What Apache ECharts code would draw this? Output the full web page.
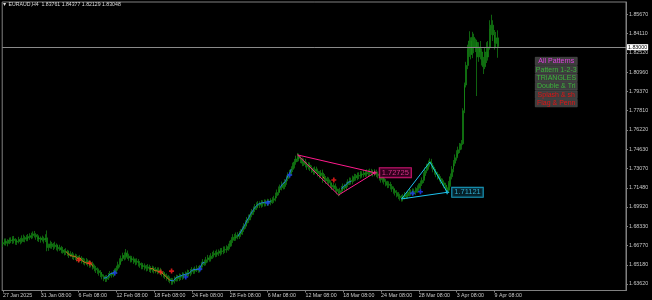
<!DOCTYPE html>
<html>
<head>
<meta charset="utf-8">
<script src="https://cdn.jsdelivr.net/npm/echarts@6/dist/echarts.min.js"></script>
<style>
html,body{margin:0;padding:0;background:#000;}
#c{width:652px;height:300px;}
</style>
</head>
<body>
<div id="c"></div>
<script>
// ---- data ----
const titleText = '\u25BC EURAUD,H4  1.83761 1.84377 1.82129 1.83048';
const xTickLabels = ['27 Jan 2025','31 Jan 08:00','6 Feb 08:00','12 Feb 08:00','18 Feb 08:00','24 Feb 08:00','28 Feb 08:00','6 Mar 08:00','12 Mar 08:00','18 Mar 08:00','24 Mar 08:00','28 Mar 08:00','3 Apr 08:00','9 Apr 08:00'];
const barsPerXTick = 24;
const slotCount = 396; // bar slots across the chart incl. right shift area
const yTicks = [1.63620,1.65180,1.66770,1.68330,1.69920,1.71480,1.73070,1.74630,1.76220,1.77810,1.79370,1.80960,1.82520,1.84110,1.85670];
const yMin = 1.63088, yMax = 1.86693;

// [open, close, low, high] per H4 bar
const candles = [
[1.6690,1.6700,1.6665,1.6726],[1.6700,1.6712,1.6678,1.6734],[1.6712,1.6695,1.6676,1.6735],[1.6695,1.6708,1.6670,1.6728],[1.6708,1.6722,1.6688,1.6742],
[1.6722,1.6715,1.6696,1.6744],[1.6715,1.6730,1.6690,1.6753],[1.6730,1.6718,1.6694,1.6755],[1.6718,1.6705,1.6683,1.6737],[1.6705,1.6712,1.6681,1.6729],
[1.6712,1.6725,1.6694,1.6748],[1.6725,1.6710,1.6686,1.6740],[1.6710,1.6735,1.6695,1.6760],[1.6735,1.6742,1.6706,1.6766],[1.6742,1.6728,1.6703,1.6756],
[1.6728,1.6738,1.6712,1.6762],[1.6738,1.6750,1.6712,1.6771],[1.6750,1.6745,1.6723,1.6777],[1.6745,1.6758,1.6729,1.6781],[1.6758,1.6772,1.6735,1.6792],
[1.6772,1.6765,1.6742,1.6796],[1.6765,1.6748,1.6724,1.6778],[1.6748,1.6730,1.6712,1.6770],[1.6730,1.6738,1.6706,1.6760],[1.6738,1.6725,1.6700,1.6751],
[1.6725,1.6735,1.6709,1.6758],[1.6735,1.6722,1.6694,1.6749],[1.6722,1.6740,1.6705,1.6769],[1.6740,1.6660,1.6630,1.6800],[1.6660,1.6672,1.6633,1.6692],
[1.6672,1.6690,1.6652,1.6716],[1.6690,1.6675,1.6650,1.6706],[1.6675,1.6668,1.6640,1.6698],[1.6668,1.6680,1.6651,1.6708],[1.6680,1.6662,1.6637,1.6694],
[1.6662,1.6650,1.6628,1.6684],[1.6650,1.6658,1.6633,1.6683],[1.6658,1.6640,1.6614,1.6674],[1.6640,1.6632,1.6610,1.6665],[1.6632,1.6620,1.6596,1.6648],
[1.6620,1.6628,1.6600,1.6655],[1.6628,1.6612,1.6590,1.6642],[1.6612,1.6600,1.6575,1.6636],[1.6600,1.6608,1.6582,1.6630],[1.6608,1.6590,1.6565,1.6624],
[1.6590,1.6580,1.6558,1.6612],[1.6580,1.6588,1.6558,1.6610],[1.6588,1.6570,1.6545,1.6605],[1.6570,1.6562,1.6540,1.6593],[1.6562,1.6575,1.6544,1.6600],
[1.6575,1.6555,1.6530,1.6590],[1.6555,1.6545,1.6522,1.6576],[1.6545,1.6538,1.6514,1.6570],[1.6538,1.6550,1.6518,1.6574],[1.6550,1.6530,1.6505,1.6564],
[1.6530,1.6520,1.6495,1.6552],[1.6520,1.6528,1.6498,1.6550],[1.6528,1.6505,1.6480,1.6545],[1.6505,1.6490,1.6466,1.6520],[1.6490,1.6478,1.6452,1.6510],
[1.6478,1.6470,1.6445,1.6497],[1.6470,1.6455,1.6430,1.6488],[1.6455,1.6440,1.6418,1.6476],[1.6440,1.6425,1.6400,1.6460],[1.6425,1.6410,1.6385,1.6440],
[1.6410,1.6402,1.6378,1.6433],[1.6402,1.6415,1.6380,1.6436],[1.6415,1.6430,1.6395,1.6452],[1.6430,1.6445,1.6410,1.6468],[1.6445,1.6438,1.6414,1.6462],
[1.6438,1.6452,1.6418,1.6475],[1.6452,1.6465,1.6430,1.6488],[1.6465,1.6490,1.6445,1.6512],[1.6490,1.6520,1.6472,1.6545],[1.6520,1.6548,1.6498,1.6572],
[1.6548,1.6570,1.6528,1.6595],[1.6570,1.6595,1.6550,1.6618],[1.6595,1.6580,1.6555,1.6620],[1.6580,1.6615,1.6562,1.6648],[1.6615,1.6590,1.6566,1.6636],
[1.6590,1.6575,1.6552,1.6610],[1.6575,1.6560,1.6538,1.6594],[1.6560,1.6568,1.6540,1.6592],[1.6568,1.6550,1.6526,1.6586],[1.6550,1.6540,1.6515,1.6570],
[1.6540,1.6548,1.6520,1.6572],[1.6548,1.6530,1.6505,1.6566],[1.6530,1.6518,1.6494,1.6550],[1.6518,1.6505,1.6482,1.6538],[1.6505,1.6512,1.6483,1.6534],
[1.6512,1.6498,1.6474,1.6530],[1.6498,1.6490,1.6465,1.6518],[1.6490,1.6502,1.6470,1.6525],[1.6502,1.6485,1.6460,1.6520],[1.6485,1.6478,1.6452,1.6508],
[1.6478,1.6490,1.6457,1.6512],[1.6490,1.6472,1.6448,1.6506],[1.6472,1.6480,1.6450,1.6502],[1.6480,1.6468,1.6442,1.6498],[1.6468,1.6475,1.6447,1.6498],
[1.6475,1.6460,1.6436,1.6494],[1.6460,1.6448,1.6424,1.6480],[1.6448,1.6440,1.6414,1.6468],[1.6440,1.6428,1.6404,1.6460],[1.6428,1.6415,1.6390,1.6448],
[1.6415,1.6405,1.6380,1.6434],[1.6405,1.6392,1.6368,1.6424],[1.6392,1.6380,1.6355,1.6412],[1.6380,1.6388,1.6357,1.6410],[1.6388,1.6402,1.6366,1.6425],
[1.6402,1.6415,1.6382,1.6438],[1.6415,1.6408,1.6384,1.6436],[1.6408,1.6425,1.6386,1.6448],[1.6425,1.6418,1.6394,1.6444],[1.6418,1.6435,1.6396,1.6458],
[1.6435,1.6428,1.6404,1.6455],[1.6428,1.6442,1.6406,1.6465],[1.6442,1.6455,1.6420,1.6480],[1.6455,1.6448,1.6424,1.6476],[1.6448,1.6462,1.6426,1.6485],
[1.6462,1.6475,1.6440,1.6500],[1.6475,1.6468,1.6444,1.6495],[1.6468,1.6482,1.6446,1.6505],[1.6482,1.6490,1.6460,1.6515],[1.6490,1.6478,1.6454,1.6510],
[1.6478,1.6495,1.6456,1.6518],[1.6495,1.6520,1.6474,1.6544],[1.6520,1.6540,1.6498,1.6566],[1.6540,1.6535,1.6510,1.6562],[1.6535,1.6560,1.6514,1.6584],
[1.6560,1.6575,1.6538,1.6600],[1.6575,1.6568,1.6544,1.6597],[1.6568,1.6590,1.6546,1.6614],[1.6590,1.6600,1.6568,1.6625],[1.6600,1.6612,1.6578,1.6636],
[1.6612,1.6605,1.6581,1.6633],[1.6605,1.6620,1.6584,1.6644],[1.6620,1.6615,1.6591,1.6645],[1.6615,1.6632,1.6594,1.6656],[1.6632,1.6628,1.6604,1.6657],
[1.6628,1.6645,1.6606,1.6669],[1.6645,1.6640,1.6616,1.6670],[1.6640,1.6655,1.6618,1.6679],[1.6655,1.6668,1.6634,1.6692],[1.6668,1.6690,1.6646,1.6715],
[1.6690,1.6720,1.6670,1.6745],[1.6720,1.6745,1.6698,1.6770],[1.6745,1.6738,1.6714,1.6772],[1.6738,1.6760,1.6716,1.6784],[1.6760,1.6752,1.6728,1.6786],
[1.6752,1.6770,1.6731,1.6794],[1.6770,1.6785,1.6748,1.6810],[1.6785,1.6810,1.6764,1.6834],[1.6810,1.6835,1.6788,1.6860],[1.6835,1.6860,1.6814,1.6884],
[1.6860,1.6885,1.6838,1.6910],[1.6885,1.6905,1.6862,1.6930],[1.6905,1.6930,1.6884,1.6955],[1.6930,1.6950,1.6908,1.6976],[1.6950,1.6972,1.6928,1.6996],
[1.6972,1.6990,1.6950,1.7016],[1.6990,1.7005,1.6968,1.7030],[1.7005,1.7015,1.6982,1.7040],[1.7015,1.7008,1.6984,1.7038],[1.7008,1.7025,1.6986,1.7049],
[1.7025,1.7018,1.6994,1.7046],[1.7018,1.7030,1.6996,1.7054],[1.7030,1.7022,1.6998,1.7052],[1.7022,1.7035,1.7000,1.7059],[1.7035,1.7028,1.7004,1.7056],
[1.7028,1.7040,1.7006,1.7064],[1.7040,1.7048,1.7018,1.7072],[1.7048,1.7060,1.7026,1.7084],[1.7060,1.7085,1.7038,1.7110],[1.7085,1.7110,1.7064,1.7135],
[1.7110,1.7135,1.7088,1.7160],[1.7135,1.7150,1.7112,1.7176],[1.7150,1.7175,1.7128,1.7200],[1.7175,1.7160,1.7136,1.7196],[1.7160,1.7195,1.7138,1.7220],
[1.7195,1.7225,1.7174,1.7250],[1.7225,1.7250,1.7204,1.7275],[1.7250,1.7270,1.7226,1.7296],[1.7270,1.7300,1.7248,1.7325],[1.7300,1.7330,1.7278,1.7355],
[1.7330,1.7360,1.7308,1.7385],[1.7360,1.7385,1.7338,1.7412],[1.7385,1.7405,1.7361,1.7434],[1.7405,1.7390,1.7366,1.7429],[1.7390,1.7375,1.7351,1.7412],
[1.7375,1.7350,1.7326,1.7396],[1.7350,1.7365,1.7328,1.7389],[1.7365,1.7340,1.7316,1.7386],[1.7340,1.7320,1.7296,1.7362],[1.7320,1.7335,1.7298,1.7359],
[1.7335,1.7310,1.7286,1.7356],[1.7310,1.7295,1.7271,1.7332],[1.7295,1.7280,1.7256,1.7316],[1.7280,1.7300,1.7258,1.7324],[1.7300,1.7285,1.7261,1.7322],
[1.7285,1.7265,1.7241,1.7306],[1.7265,1.7250,1.7226,1.7286],[1.7250,1.7270,1.7228,1.7294],[1.7270,1.7240,1.7190,1.7298],[1.7240,1.7225,1.7201,1.7262],
[1.7225,1.7205,1.7181,1.7246],[1.7205,1.7215,1.7182,1.7239],[1.7215,1.7190,1.7166,1.7234],[1.7190,1.7170,1.7146,1.7210],[1.7170,1.7155,1.7131,1.7190],
[1.7155,1.7165,1.7132,1.7189],[1.7165,1.7140,1.7116,1.7184],[1.7140,1.7120,1.7096,1.7160],[1.7120,1.7105,1.7080,1.7140],[1.7105,1.7125,1.7084,1.7149],
[1.7125,1.7140,1.7104,1.7164],[1.7140,1.7160,1.7118,1.7184],[1.7160,1.7150,1.7126,1.7182],[1.7150,1.7175,1.7128,1.7199],[1.7175,1.7195,1.7154,1.7219],
[1.7195,1.7210,1.7172,1.7234],[1.7210,1.7200,1.7176,1.7232],[1.7200,1.7225,1.7178,1.7249],[1.7225,1.7240,1.7204,1.7264],[1.7240,1.7232,1.7208,1.7262],
[1.7232,1.7250,1.7211,1.7274],[1.7250,1.7245,1.7221,1.7276],[1.7245,1.7262,1.7224,1.7286],[1.7262,1.7255,1.7231,1.7284],[1.7255,1.7270,1.7234,1.7294],
[1.7270,1.7262,1.7238,1.7292],[1.7262,1.7275,1.7241,1.7300],[1.7275,1.7268,1.7244,1.7298],[1.7268,1.7280,1.7246,1.7306],[1.7280,1.7272,1.7248,1.7304],
[1.7272,1.7265,1.7241,1.7296],[1.7265,1.7278,1.7244,1.7302],[1.7278,1.7260,1.7236,1.7298],[1.7260,1.7250,1.7226,1.7282],[1.7250,1.7232,1.7208,1.7270],
[1.7232,1.7215,1.7191,1.7252],[1.7215,1.7225,1.7192,1.7249],[1.7225,1.7200,1.7176,1.7244],[1.7200,1.7185,1.7161,1.7220],[1.7185,1.7170,1.7146,1.7206],
[1.7170,1.7178,1.7148,1.7202],[1.7178,1.7160,1.7136,1.7198],[1.7160,1.7140,1.7116,1.7180],[1.7140,1.7125,1.7101,1.7160],[1.7125,1.7110,1.7086,1.7144],
[1.7110,1.7095,1.7071,1.7130],[1.7095,1.7080,1.7056,1.7114],[1.7080,1.7068,1.7044,1.7100],[1.7068,1.7060,1.7036,1.7090],[1.7060,1.7075,1.7038,1.7099],
[1.7075,1.7090,1.7054,1.7114],[1.7090,1.7082,1.7058,1.7112],[1.7082,1.7100,1.7061,1.7124],[1.7100,1.7115,1.7078,1.7139],[1.7115,1.7108,1.7084,1.7136],
[1.7108,1.7120,1.7086,1.7144],[1.7120,1.7112,1.7088,1.7142],[1.7112,1.7130,1.7091,1.7154],[1.7130,1.7145,1.7108,1.7169],[1.7145,1.7160,1.7124,1.7184],
[1.7160,1.7185,1.7138,1.7209],[1.7185,1.7210,1.7164,1.7234],[1.7210,1.7250,1.7188,1.7276],[1.7250,1.7290,1.7228,1.7316],[1.7290,1.7320,1.7268,1.7346],
[1.7320,1.7345,1.7298,1.7372],[1.7345,1.7365,1.7322,1.7390],[1.7365,1.7330,1.7306,1.7386],[1.7330,1.7300,1.7276,1.7352],[1.7300,1.7280,1.7256,1.7320],
[1.7280,1.7260,1.7236,1.7300],[1.7260,1.7240,1.7216,1.7280],[1.7240,1.7225,1.7201,1.7260],[1.7225,1.7205,1.7181,1.7244],[1.7205,1.7190,1.7166,1.7224],
[1.7190,1.7170,1.7146,1.7210],[1.7170,1.7150,1.7126,1.7190],[1.7150,1.7130,1.7101,1.7170],[1.7130,1.7180,1.7108,1.7204],[1.7180,1.7240,1.7158,1.7266],
[1.7240,1.7300,1.7218,1.7326],[1.7300,1.7350,1.7276,1.7376],[1.7350,1.7395,1.7326,1.7422],[1.7395,1.7430,1.7371,1.7456],[1.7430,1.7460,1.7406,1.7486],
[1.7460,1.7490,1.7434,1.7516],[1.7490,1.7510,1.7462,1.7540],[1.7510,1.7780,1.7500,1.7800],[1.7780,1.7990,1.7760,1.8010],[1.7990,1.8150,1.7970,1.8180],
[1.8150,1.8280,1.8120,1.8320],[1.8280,1.8350,1.8220,1.8430],[1.8350,1.8240,1.8200,1.8380],[1.8240,1.8380,1.8210,1.8425],[1.8380,1.8300,1.8250,1.8410],
[1.8300,1.8340,1.8260,1.8370],[1.8340,1.8220,1.7900,1.8360],[1.8220,1.8300,1.8180,1.8340],[1.8300,1.8260,1.8200,1.8350],[1.8260,1.8190,1.8150,1.8290],
[1.8190,1.8140,1.8080,1.8220],[1.8140,1.8260,1.8120,1.8300],[1.8260,1.8220,1.8170,1.8340],[1.8220,1.8300,1.8190,1.8350],[1.8300,1.8450,1.8280,1.8520],
[1.8450,1.8480,1.8400,1.8565],[1.8480,1.8400,1.8350,1.8520],[1.8400,1.8330,1.8280,1.8440],[1.8330,1.8376,1.8300,1.8424],[1.83761,1.83048,1.82129,1.84377]
];

// indicator overlay: bar index ranges that are highlighted
const orangeSegments = [[40,57],[93,106],[203,204]];
const blueSegments = [[64,71],[106,128],[149,170],[176,183],[215,221]];
// signal markers [bar index, price]
const sellMarks = [[48,1.6558],[55,1.6534],[100,1.6460],[107,1.6468],[210,1.7213]];
const buyMarks = [[71,1.6452],[116,1.6419],[125,1.6485],[168,1.7025],[182,1.7254],[260,1.7104],[265,1.7117]];
// chart patterns [bar index, price]
const pinkPattern = [[187,1.7418],[213,1.7090],[236,1.72725]];
const cyanPattern = [[253,1.7058],[271,1.7360],[282,1.71121]];
// pattern panel buttons
const buttonLabels = ['All Patterns','Pattern 1-2-3','TRIANGLES','Double & Triple','Splash & shelf','Flag & Pennant'];
const buttonColors = ['#e040e0','#3cb43c','#3cb43c','#3cb43c','#e01414','#e01414'];

// ---- chart ----
const FONT = 'Liberation Sans, Arial, sans-serif';
const slots = Array.from({length: slotCount}, (_, i) => String(i));
const lastClose = candles[candles.length - 1][1];

function segSeries(ranges, color) {
  return ranges.map(r => ({
    type: 'line', silent: true, symbol: 'none', z: 4,
    lineStyle: {color: color, width: 1},
    data: candles.slice(r[0], r[1] + 1).map((d, k) => [r[0] + k, d[1]])
  }));
}
const plusPath = 'path://M2,0H4V2H6V4H4V6H2V4H0V2H2Z';

function patternSeries(pts, color, boxBg, txtColor) {
  return [{
    type: 'line', silent: true, symbol: 'none', z: 6,
    lineStyle: {color: color, width: 1},
    data: [pts[0], pts[1], pts[2], pts[0]]
  }, {
    type: 'scatter', silent: true, z: 7,
    symbol: plusPath, symbolSize: 4,
    itemStyle: {color: color},
    data: [pts[2]],
    label: {
      show: true, position: 'right', distance: 3,
      formatter: p => p.value[1].toFixed(5),
      color: txtColor, fontFamily: FONT, fontSize: 7.5,
      backgroundColor: boxBg, borderColor: color, borderWidth: 1,
      padding: [1, 2, 0, 2]
    }
  }];
}

const graphicEls = buttonLabels.map((t, k) => ({
  type: 'group', left: 535, top: 57 + k * 8.4,
  children: [
    {type: 'rect', shape: {x: 0, y: 0, width: 42, height: 7.6},
     style: {fill: '#3d3d3d', stroke: '#5e5e5e', lineWidth: 0.5}},
    {type: 'text', x: 21, y: 4.1,
     style: {text: t, fill: buttonColors[k], font: '7px ' + FONT,
             align: 'center', verticalAlign: 'middle',
             width: 42, overflow: 'truncate', ellipsis: ''}}
  ]
}));

const chart = echarts.init(document.getElementById('c'));
chart.setOption({
  animation: false,
  backgroundColor: '#000000',
  title: {
    text: titleText, left: 2, top: 2, padding: 0,
    textStyle: {color: '#dcdcdc', fontSize: 5.2, fontWeight: 'normal', fontFamily: FONT}
  },
  grid: {left: 2, right: 26, top: 2, bottom: 9.5, show: true, borderColor: '#808080', borderWidth: 1, backgroundColor: '#000'},
  xAxis: {
    type: 'category', data: slots, boundaryGap: true,
    axisLine: {show: true, lineStyle: {color: '#808080'}},
    axisTick: {show: true, length: 2, alignWithLabel: true, lineStyle: {color: '#808080'},
               interval: i => i % barsPerXTick === 0 && i / barsPerXTick < xTickLabels.length},
    axisLabel: {
      show: true, align: 'left', margin: 2.5, color: '#c8c8c8', fontSize: 5.3, fontFamily: FONT,
      interval: i => i % barsPerXTick === 0 && i / barsPerXTick < xTickLabels.length,
      formatter: (v, i) => xTickLabels[i / barsPerXTick] || ''
    },
    splitLine: {show: false}
  },
  yAxis: {
    type: 'value', position: 'right', min: yMin, max: yMax, scale: true,
    axisLine: {show: true, lineStyle: {color: '#808080'}},
    axisTick: {show: true, length: 2, inside: false, customValues: yTicks, lineStyle: {color: '#808080'}},
    axisLabel: {show: true, margin: 3, color: '#c8c8c8', fontSize: 5.3, fontFamily: FONT,
                customValues: yTicks, formatter: v => v.toFixed(5)},
    splitLine: {show: false}
  },
  graphic: graphicEls,
  series: [
    {
      type: 'candlestick', name: 'EURAUD', data: candles, barWidth: 1.4, z: 3,
      itemStyle: {color: '#0a4c0a', color0: '#0a4c0a', borderColor: '#158c15', borderColor0: '#158c15', borderWidth: 0.7},
      markLine: {
        silent: true, symbol: ['none', 'none'], animation: false,
        lineStyle: {color: '#8a8a8a', width: 1, type: 'solid'},
        label: {show: true, position: 'end', distance: 1, formatter: p => Number(p.value).toFixed(5),
                color: '#000', backgroundColor: '#ffffff', fontSize: 5.3, fontFamily: FONT, padding: [1, 1, 0, 1]},
        data: [{yAxis: lastClose}]
      }
    },
    ...segSeries(orangeSegments, '#d0661c'),
    ...segSeries(blueSegments, '#2277dd'),
    {type: 'scatter', silent: true, z: 8, symbol: plusPath, symbolSize: 5, itemStyle: {color: '#ff1e1e'}, data: sellMarks},
    {type: 'scatter', silent: true, z: 8, symbol: plusPath, symbolSize: 5, itemStyle: {color: '#2038ff'}, data: buyMarks},
    ...patternSeries(pinkPattern, '#ff1a8c', '#3c0024', '#ff3ea0'),
    ...patternSeries(cyanPattern, '#1ec3f0', '#062630', '#3cc8f0')
  ]
});
</script>
</body>
</html>
